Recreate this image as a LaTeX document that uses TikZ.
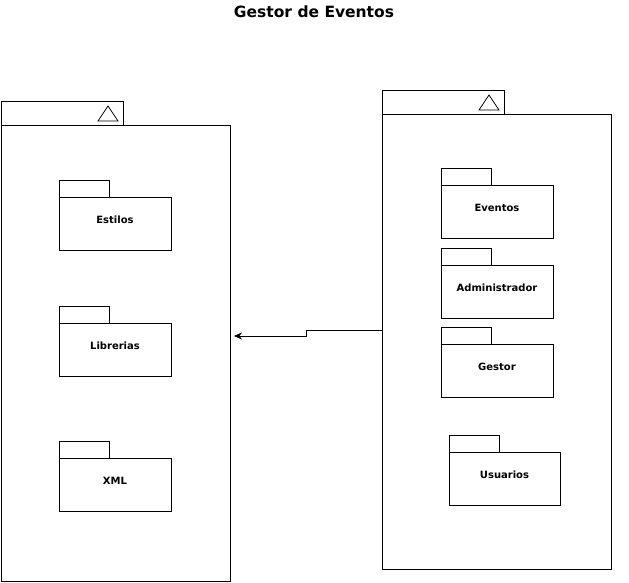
\documentclass[tikz,border=0pt]{standalone}
\usepackage{fontspec}
\setmainfont{DejaVu Sans}
\usepackage{tikz}
\usetikzlibrary{arrows.meta}
\usetikzlibrary{positioning}

\begin{document}
\begin{tikzpicture}[x=1pt, y=-1pt, font=\bfseries\fontsize{10}{12}\selectfont,
                box/.style={rectangle, draw, line width=0.8pt, inner sep=0pt, outer sep=0pt},
                pkg/.style={box, minimum width=112pt, minimum height=53pt, text height=7pt, text depth=7pt},
                tab/.style={box, minimum width=50pt, minimum height=16.5pt},
                bigpkg/.style={box, minimum width=229pt, minimum height=456pt},
                bigtab/.style={box, minimum width=122pt, minimum height=24pt},
                arrow/.style={draw, line width=0.8pt, -{Stealth[length=8pt, width=7pt]}},
            ]
            \useasboundingbox (0,0) rectangle (629,583);
            \node[font=\bfseries\fontsize{15.5}{18}\selectfont] (title) at (314,12) {Gestor de Eventos};
            % left package
            \node[bigpkg] (vista) at (115.5,353) {};
            \node[bigtab, above right=0pt and 0pt of vista.north west] (vistatab) {};
            \draw[line width=0.8pt] ([xshift=-25pt, yshift=4pt] vistatab.south east) -- ++(20,0) -- ++(-10,-15) -- cycle;
            \node[pkg] (estilos) at (115,223.5) {Estilos};
            \node[tab, above right=0pt and 0pt of estilos.north west] {};
            \node[pkg] (librerias) at (115,349.5) {Librerias};
            \node[tab, above right=0pt and 0pt of librerias.north west] {};
            \node[pkg] (xml) at (115,484.5) {XML};
            \node[tab, above right=0pt and 0pt of xml.north west] {};
            % right package
            \node[bigpkg, minimum height=455pt] (logica) at (496.5,341.5) {};
            \node[bigtab, above right=0pt and 0pt of logica.north west] (logicatab) {};
            \draw[line width=0.8pt] ([xshift=-25pt, yshift=4pt] logicatab.south east) -- ++(20,0) -- ++(-10,-15) -- cycle;
            \node[pkg] (eventos) at (497,211.5) {Eventos};
            \node[tab, above right=0pt and 0pt of eventos.north west] {};
            \node[pkg] (admin) at (497,291.5) {Administrador};
            \node[tab, above right=0pt and 0pt of admin.north west] {};
            \node[pkg] (gestor) at (497,370.5) {Gestor};
            \node[tab, above right=0pt and 0pt of gestor.north west] {};
            \node[pkg, minimum width=111pt] (usuarios) at (504.5,478.5) {Usuarios};
            \node[tab, above right=0pt and 0pt of usuarios.north west] {};
            % dependency
            \path[arrow] ([yshift=11.5pt] logica.west) -- ++(-76,0) |- ([xshift=4pt, yshift=17pt] vista.east);
\end{tikzpicture}
\end{document}
